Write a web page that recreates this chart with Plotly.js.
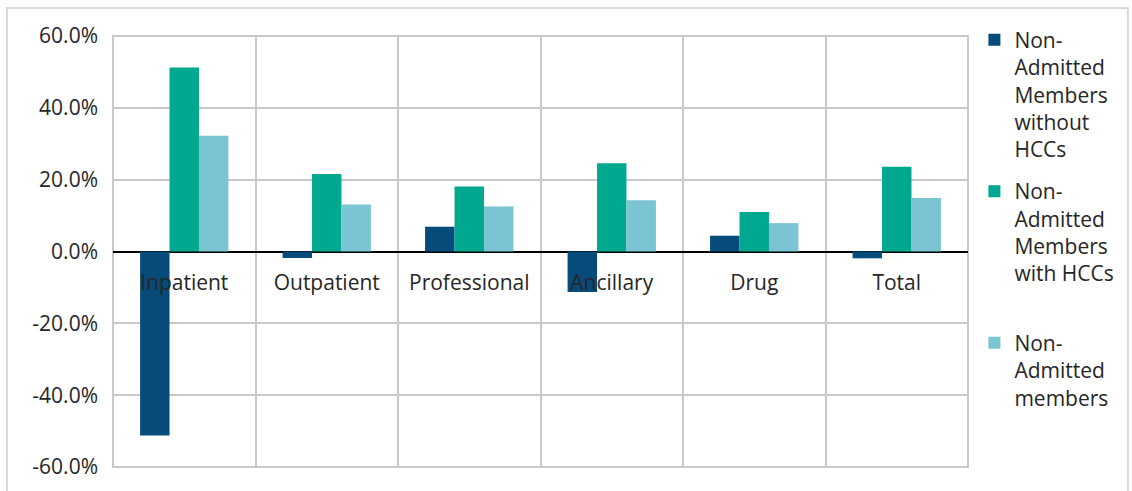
<!DOCTYPE html>
<html>
<head>
<meta charset="utf-8">
<script src="https://cdn.plot.ly/plotly-3.0.1.min.js"></script>
<style>html,body{margin:0;padding:0;background:#fff;}#chart{width:1132px;height:491px;}</style>
</head>
<body>
<div id="chart"></div>
<script>
const categories = ["Inpatient", "Outpatient", "Professional", "Ancillary", "Drug", "Total"];
const seriesNames = [
  "Non-<br>Admitted<br>Members<br>without<br>HCCs",
  "Non-<br>Admitted<br>Members<br>with HCCs<br>\u00a0",
  "Non-<br>Admitted<br>members"
];
const withoutHCCs = [-51.2, -1.8, 6.9, -11.3, 4.4, -1.9];
const withHCCs = [51.2, 21.6, 18.1, 24.6, 11.0, 23.6];
const allNonAdmitted = [32.2, 13.1, 12.5, 14.3, 7.9, 14.9];
const yTicks = [-60, -40, -20, 0, 20, 40, 60];
const colors = ["#074B7A", "#00A88F", "#7AC4D3"];

const fontFam = "'Open Sans', 'Noto Sans', sans-serif";
const series = [withoutHCCs, withHCCs, allNonAdmitted];
const traces = series.map((vals, i) => ({
  type: "bar",
  name: seriesNames[i],
  legendgroup: "g" + i,
  x: categories,
  y: vals,
  marker: {color: colors[i]},
  hoverinfo: "x+y"
}));

const layout = {
  width: 1132,
  height: 491,
  margin: {l: 113, r: 164, t: 36, b: 24},
  paper_bgcolor: "#ffffff",
  plot_bgcolor: "#ffffff",
  font: {family: fontFam, size: 21, color: "#262626"},
  barmode: "group",
  bargap: 0.38,
  bargroupgap: 0,
  showlegend: true,
  legend: {
    x: 1.0075, xanchor: "left", y: 1.038, yanchor: "top",
    valign: "top",
    font: {family: fontFam, size: 21, color: "#262626"},
    tracegroupgap: 12,
    itemwidth: 30,
    maxheight: 470,
    bgcolor: "rgba(0,0,0,0)"
  },
  xaxis: {
    type: "category",
    anchor: "free",
    position: 0.5,
    tickson: "boundaries",
    showgrid: true,
    gridcolor: "#c9c9c9",
    gridwidth: 2,
    ticks: "",
    ticklabelstandoff: 16,
    showline: false,
    zeroline: false,
    tickfont: {family: fontFam, size: 21, color: "#262626"}
  },
  yaxis: {
    range: [-60, 60],
    tickvals: yTicks,
    ticktext: yTicks.map(v => v.toFixed(1) + "%"),
    showgrid: true,
    gridcolor: "#c9c9c9",
    gridwidth: 2,
    zeroline: true,
    zerolinecolor: "#000000",
    zerolinewidth: 2,
    ticks: "",
    ticklabelstandoff: 14,
    showline: false,
    tickfont: {family: fontFam, size: 21, color: "#262626"}
  },
  shapes: [
    {
      type: "rect", xref: "paper", yref: "paper",
      x0: 0, x1: 1, y0: 0, y1: 1,
      line: {color: "#c9c9c9", width: 2},
      fillcolor: "rgba(0,0,0,0)",
      layer: "below"
    },
    {
      type: "rect", xref: "paper", yref: "paper",
      x0: -0.124, x1: 1.187, y0: -0.2, y1: 1.065,
      line: {color: "#d9d9d9", width: 2},
      fillcolor: "rgba(0,0,0,0)",
      layer: "above"
    }
  ]
};

Plotly.newPlot("chart", traces, layout, {displayModeBar: false, staticPlot: true});
</script>
</body>
</html>
